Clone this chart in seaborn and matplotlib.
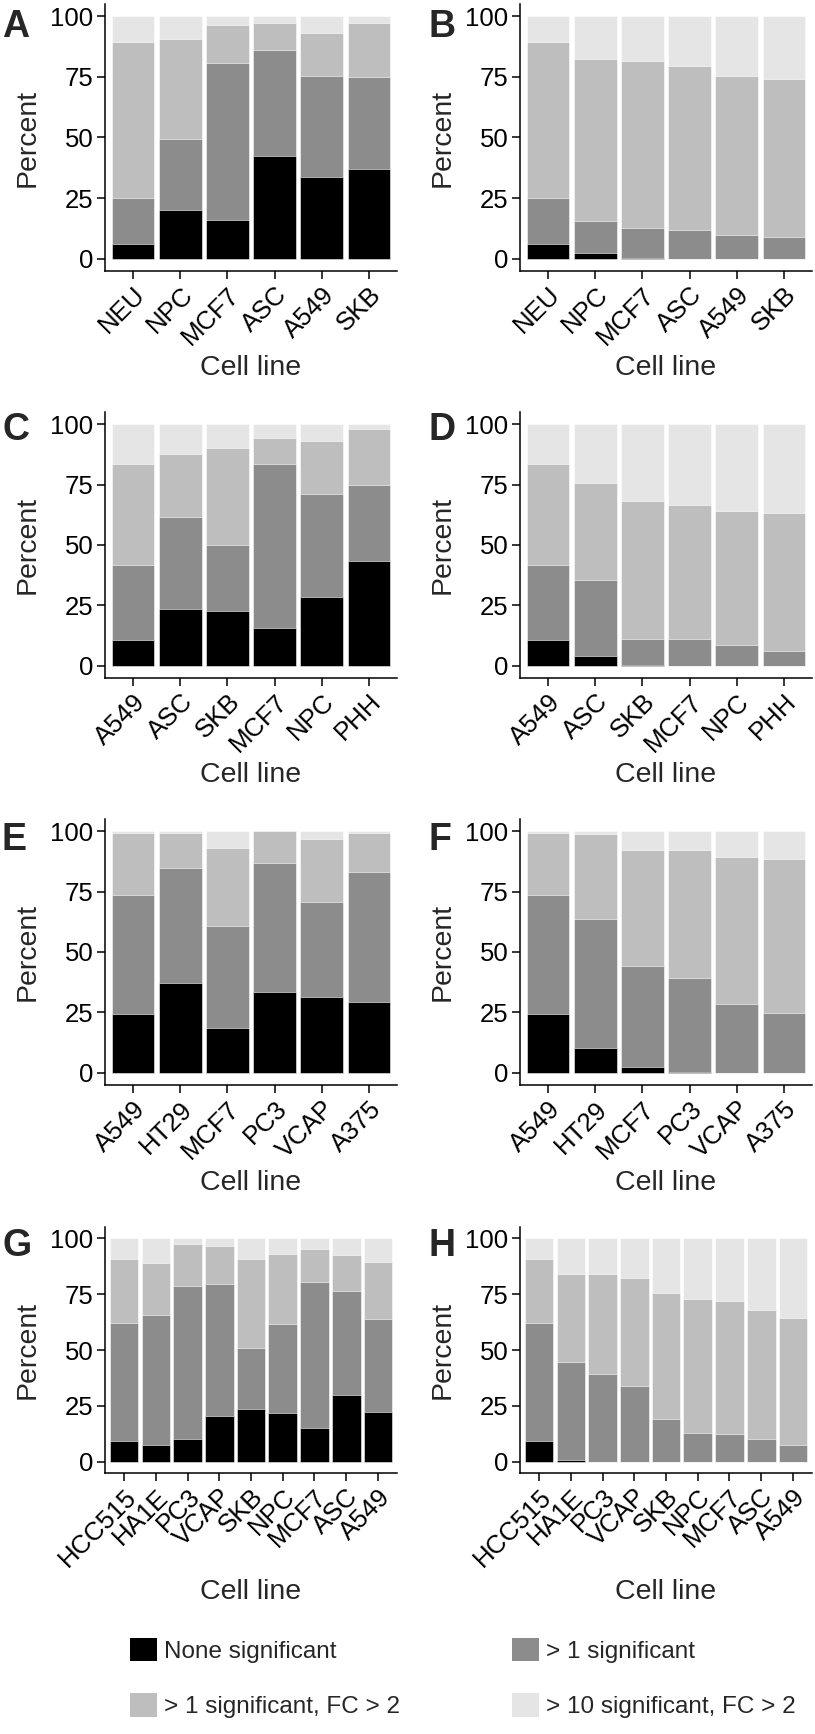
import matplotlib
matplotlib.use("Agg")
import matplotlib.pyplot as plt
from matplotlib.patches import Patch
from matplotlib.transforms import ScaledTranslation
import seaborn as sns
import pandas as pd

# cell lines shown in each row of panels
cells_ab = ["NEU", "NPC", "MCF7", "ASC", "A549", "SKB"]
cells_cd = ["A549", "ASC", "SKB", "MCF7", "NPC", "PHH"]
cells_ef = ["A549", "HT29", "MCF7", "PC3", "VCAP", "A375"]
cells_gh = ["HCC515", "HA1E", "PC3", "VCAP", "SKB", "NPC", "MCF7", "ASC", "A549"]

# percent of genes in each class (none, >1 sig, >1 sig FC>2, >10 sig FC>2)
a_none = [6.3, 20.1, 16.1, 42.5, 33.8, 36.9]
a_sig = [18.9, 29.4, 64.4, 43.5, 41.6, 37.9]
a_fc = [64.3, 41.0, 15.8, 11.2, 17.7, 22.4]
a_ten = [10.5, 9.5, 3.7, 2.8, 6.9, 2.8]

b_none = [6.3, 2.3, 0.4, 0.0, 0.0, 0.0]
b_sig = [18.9, 13.2, 12.5, 12.0, 10.0, 8.9]
b_fc = [64.3, 67.0, 68.5, 67.4, 65.2, 65.4]
b_ten = [10.5, 17.5, 18.6, 20.6, 24.8, 25.7]

c_none = [10.9, 23.4, 22.7, 15.6, 28.5, 43.5]
c_sig = [30.7, 38.2, 27.3, 68.0, 42.7, 31.3]
c_fc = [42.1, 26.0, 40.2, 10.5, 21.8, 23.3]
c_ten = [16.3, 12.4, 9.8, 5.9, 7.0, 1.9]

d_none = [10.9, 4.3, 0.3, 0.1, 0.1, 0.0]
d_sig = [30.7, 31.2, 10.9, 10.9, 8.6, 6.1]
d_fc = [42.1, 40.1, 56.8, 55.7, 55.3, 57.0]
d_ten = [16.3, 24.4, 32.0, 33.3, 36.0, 36.9]

e_none = [24.5, 37.2, 18.5, 33.6, 31.3, 29.3]
e_sig = [48.9, 47.6, 42.2, 53.3, 39.4, 53.6]
e_fc = [25.9, 14.5, 32.4, 13.0, 26.1, 16.4]
e_ten = [0.7, 0.7, 6.9, 0.1, 3.2, 0.7]

f_none = [24.5, 10.1, 2.5, 0.2, 0.0, 0.0]
f_sig = [48.9, 53.7, 41.6, 39.1, 28.7, 24.7]
f_fc = [25.9, 34.8, 47.9, 52.8, 60.7, 63.7]
f_ten = [0.7, 1.4, 8.0, 7.9, 10.6, 11.6]

g_none = [9.4, 7.4, 10.3, 20.4, 23.7, 21.9, 15.3, 29.8, 22.5]
g_sig = [52.7, 58.4, 68.3, 59.1, 27.2, 39.7, 65.2, 46.5, 41.5]
g_fc = [28.7, 23.2, 18.6, 16.8, 39.9, 31.4, 14.6, 16.0, 25.4]
g_ten = [9.2, 11.0, 2.8, 3.7, 9.2, 7.0, 4.9, 7.7, 10.6]

h_none = [9.4, 1.0, 0.0, 0.0, 0.0, 0.0, 0.0, 0.0, 0.0]
h_sig = [52.7, 43.6, 39.3, 33.8, 19.3, 12.8, 12.5, 10.4, 7.7]
h_fc = [28.7, 39.5, 44.5, 48.6, 56.1, 60.1, 59.5, 57.6, 56.6]
h_ten = [9.2, 15.9, 16.2, 17.6, 24.6, 27.1, 28.0, 32.0, 35.7]

classes = ["None significant", "> 1 significant",
           "> 1 significant, FC > 2", "> 10 significant, FC > 2"]
colors = ["#000000", "#8c8c8c", "#bebebe", "#e5e5e5"]

sns.set_style("ticks")
plt.rcParams["font.family"] = ["Liberation Sans", "DejaVu Sans"]

W, H = 815, 1734
fig = plt.figure(figsize=(W / 100, H / 100), dpi=100)


def add_axes(left, top, width, bottom):
    return fig.add_axes([left / W, 1 - bottom / H, width / W, (bottom - top) / H])


def draw_panel(ax, cells, none, sig, fc, ten, xlab_y):
    df = pd.DataFrame({"cell": cells, "none": none, "sig": sig, "fc": fc, "ten": ten})
    df["c1"] = df["none"]
    df["c2"] = df["c1"] + df["sig"]
    df["c3"] = df["c2"] + df["fc"]
    df["c4"] = df["c3"] + df["ten"]
    # draw cumulative bars from the top class down so they stack
    for col, color in zip(["c4", "c3", "c2", "c1"], colors[::-1]):
        sns.barplot(data=df, x="cell", y=col, order=cells, color=color, width=0.9,
                    saturation=1, edgecolor="white", linewidth=0.4,
                    errorbar=None, ax=ax)
    n = len(cells)
    ax.set_xlim(-0.6, n - 0.4)
    ax.set_ylim(-5, 105)
    ax.set_yticks([0, 25, 50, 75, 100])
    ax.set_xticks(range(n))
    ax.set_xticklabels(cells, rotation=45, ha="right", va="top",
                       rotation_mode="anchor")
    for lab in ax.get_xticklabels():
        lab.set_transform(lab.get_transform() +
                          ScaledTranslation(6 / 100, 0, fig.dpi_scale_trans))
    ax.tick_params(axis="both", labelsize=18.5, length=5.8, width=1.1,
                   color="black", labelcolor="black", pad=2.5)
    for s in ["left", "bottom"]:
        ax.spines[s].set_linewidth(1.1)
        ax.spines[s].set_color("black")
    sns.despine(ax=ax)
    ax.set_ylabel("Percent", fontsize=20.5, va="center")
    ax.set_xlabel("Cell line", fontsize=20.5, va="center")
    ax.yaxis.set_label_coords(-77 / 292, 0.5)
    ax.xaxis.set_label_coords(0.5, xlab_y)
    ax.grid(False)


rows = [
    (4, 271, 368, 37, [("A", cells_ab, a_none, a_sig, a_fc, a_ten),
                       ("B", cells_ab, b_none, b_sig, b_fc, b_ten)]),
    (412, 678, 775, 440, [("C", cells_cd, c_none, c_sig, c_fc, c_ten),
                          ("D", cells_cd, d_none, d_sig, d_fc, d_ten)]),
    (819, 1085, 1183, 850, [("E", cells_ef, e_none, e_sig, e_fc, e_ten),
                            ("F", cells_ef, f_none, f_sig, f_fc, f_ten)]),
    (1227, 1473, 1592, 1256, [("G", cells_gh, g_none, g_sig, g_fc, g_ten),
                              ("H", cells_gh, h_none, h_sig, h_fc, h_ten)]),
]

lefts = [105, 520]
letter_x = [2, 429]
for top, bottom, xlab_center, letter_base, panels in rows:
    for i, (letter, cells, none, sig, fc, ten) in enumerate(panels):
        ax = add_axes(lefts[i], top, 292, bottom)
        xlab_y = -(xlab_center - bottom) / (bottom - top)
        draw_panel(ax, cells, none, sig, fc, ten, xlab_y)
        fig.text(letter_x[i] / W, 1 - letter_base / H, letter, fontsize=27,
                 fontweight="bold", ha="left", va="baseline")

handles = [Patch(facecolor=c, edgecolor="none") for c in colors]
# column-wise fill: left column gets classes 0 and 2, right column 1 and 3
order = [0, 2, 1, 3]
fig.legend([handles[k] for k in order], [classes[k] for k in order],
           ncol=2, loc="upper left", bbox_to_anchor=(130 / W, 1 - 1638 / H),
           frameon=False, fontsize=17.5, borderpad=0, borderaxespad=0,
           handlelength=1.1, handleheight=1.1, handletextpad=0.3,
           labelspacing=1.25, columnspacing=4.6)

fig.savefig("out.png", dpi=100)
plt.close(fig)
